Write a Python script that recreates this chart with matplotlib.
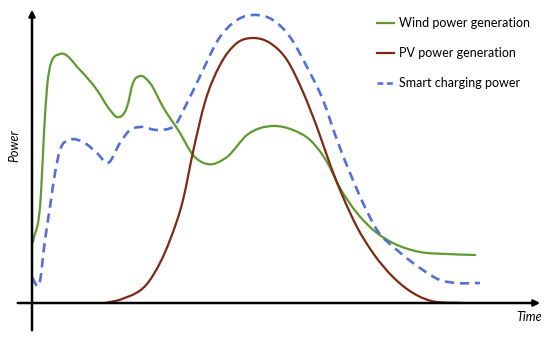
import numpy as np
import matplotlib
matplotlib.use('Agg')
import matplotlib.pyplot as plt
from matplotlib.path import Path
from matplotlib.patches import PathPatch
from matplotlib.lines import Line2D

plt.rcParams['font.family'] = ['Lato', 'DejaVu Sans']

# values (time, power) in arbitrary units
wind_t = [1, 9, 12, 15, 19, 28, 48, 65, 78, 85, 95, 101, 108, 118, 131, 148, 161, 175,
          195, 215, 241, 261, 278, 295, 308, 325, 345, 361, 388, 415, 443]
wind_p = [61, 110, 170, 215, 240, 249, 233, 213, 193, 186, 196, 220, 227, 220, 196, 170, 148, 139,
          146, 168, 177, 173, 163, 141, 115, 90, 70, 60, 51, 49, 48]

pv_t = [73, 90, 118, 138, 151, 161, 173, 188, 205, 221, 238, 255, 271, 286, 299, 311,
        325, 341, 361, 381, 405, 431]
pv_p = [0, 4, 23, 63, 103, 151, 201, 238, 260, 265, 260, 243, 211, 173, 136, 106,
        76, 50, 26, 10, 1, 0]

smart_t = [0, 8, 13, 18, 23, 28, 38, 51, 65, 76, 88, 98, 108, 125, 141, 155, 170, 186,
           205, 225, 241, 258, 275, 291, 305, 318, 331, 345, 365, 388, 408, 425, 448]
smart_p = [25, 22, 63, 96, 130, 153, 163, 161, 150, 140, 160, 173, 176, 173, 176, 200, 231, 263,
           283, 288, 283, 266, 236, 203, 163, 130, 100, 73, 53, 35, 23, 20, 20]

labels = ['Wind power generation', 'PV power generation', 'Smart charging power']
colors = ['#5f9a2e', '#7d2a12', '#5470d6']


def smooth_path(t, p):
    # cubic Hermite through the read points, slopes limited to avoid overshoot
    t = np.asarray(t, float)
    p = np.asarray(p, float)
    h = np.diff(t)
    s = np.diff(p) / h
    d = np.zeros_like(p)
    d[1:-1] = (h[:-1] * s[1:] + h[1:] * s[:-1]) / (h[:-1] + h[1:])
    for i in range(1, len(t) - 1):
        if s[i - 1] * s[i] > 0:
            lim = 3 * min(abs(s[i - 1]), abs(s[i]))
            d[i] = np.sign(d[i]) * min(abs(d[i]), lim)
    d[0] = s[0]
    d[-1] = s[-1]
    verts = [(t[0], p[0])]
    codes = [Path.MOVETO]
    for i in range(len(t) - 1):
        dt = h[i] / 3.0
        verts += [(t[i] + dt, p[i] + d[i] * dt),
                  (t[i + 1] - dt, p[i + 1] - d[i + 1] * dt),
                  (t[i + 1], p[i + 1])]
        codes += [Path.CURVE4] * 3
    return Path(verts, codes)


fig = plt.figure(figsize=(5.5, 3.41), dpi=100)
ax = fig.add_axes([0, 0, 1, 1])
ax.set_xlim(-32, 518)
ax.set_ylim(-38, 303)
ax.axis('off')

# axes with arrows
ax.annotate('', xy=(0, 296), xytext=(0, -30),
            arrowprops=dict(arrowstyle='-|>', color='black', lw=1.8, mutation_scale=9))
ax.annotate('', xy=(511, 0), xytext=(-17, 0),
            arrowprops=dict(arrowstyle='-|>', color='black', lw=1.8, mutation_scale=9))
ax.text(-18, 157, 'Power', rotation=90, style='italic', fontsize=9,
        ha='center', va='center')
ax.text(497, -14, 'Time', style='italic', fontsize=9, ha='center', va='center')

ax.add_patch(PathPatch(smooth_path(wind_t, wind_p), fill=False,
                       edgecolor=colors[0], lw=1.6, capstyle='round'))
ax.add_patch(PathPatch(smooth_path(pv_t, pv_p), fill=False,
                       edgecolor=colors[1], lw=1.6, capstyle='round'))
ax.add_patch(PathPatch(smooth_path(smart_t, smart_p), fill=False,
                       edgecolor=colors[2], lw=1.9, linestyle=(0, (3.5, 2.2))))

handles = [Line2D([], [], color=colors[0], lw=1.6),
           Line2D([], [], color=colors[1], lw=1.6),
           Line2D([], [], color=colors[2], lw=1.9, linestyle=(0, (2.2, 1.4)))]
ax.legend(handles, labels, loc='upper left', bbox_to_anchor=(0.676, 0.965),
          frameon=False, fontsize=9, handlelength=1.4, handletextpad=0.35,
          labelspacing=1.45, borderaxespad=0)

fig.savefig('out.png', dpi=100)
